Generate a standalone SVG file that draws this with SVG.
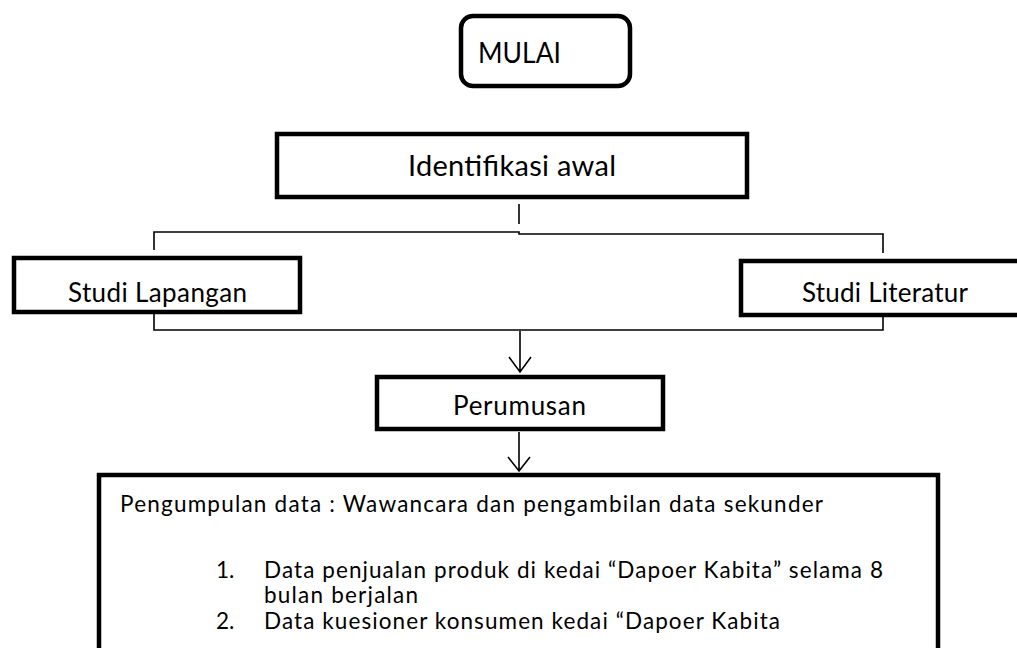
<svg xmlns="http://www.w3.org/2000/svg" width="1017" height="648" viewBox="0 0 1017 648">
<style>
.box{fill:#fff;stroke:#000;stroke-width:4.5}
.ln{fill:none;stroke:#000;stroke-width:1.6}
text{font-family:Lato,"Liberation Sans",sans-serif;fill:#000}
.big{font-size:29px}
.mid{font-size:26px}
.sm{font-size:22.5px}
</style>
<rect width="1017" height="648" fill="#fff"/>
<g id="connectors">
<path class="ln" d="M519,204 V224"/>
<path class="ln" d="M154,250 V232 H519 V234 H883 V253"/>
<path class="ln" d="M154,314 V330 H883 V317"/>
<path class="ln" d="M520,331 V372 M509,357 L520,372 L531,357"/>
<path class="ln" d="M519,432 V471 M508,457 L519,471 L530,457"/>
</g>
<g id="mulai">
<rect class="box" x="461" y="16" width="169" height="70" rx="12"/>
<text class="big" x="478" y="63" textLength="83" lengthAdjust="spacingAndGlyphs">MULAI</text>
</g>
<g id="identifikasi">
<rect class="box" x="277" y="134" width="470" height="63"/>
<text class="big" x="408" y="176" textLength="208">Identifikasi awal</text>
</g>
<g id="studi-lapangan">
<rect class="box" x="14" y="258" width="286" height="54"/>
<text class="mid" x="68" y="302" textLength="179">Studi Lapangan</text>
</g>
<g id="studi-literatur">
<rect class="box" x="741" y="261" width="290" height="54"/>
<text class="mid" x="802" y="302" textLength="166">Studi Literatur</text>
</g>
<g id="perumusan">
<rect class="box" x="377" y="377" width="286" height="52"/>
<text class="mid" x="453" y="415" textLength="133">Perumusan</text>
</g>
<g id="pengumpulan">
<rect class="box" x="99" y="475" width="839" height="200"/>
<text class="sm" x="120" y="512" textLength="703">Pengumpulan data : Wawancara dan pengambilan data sekunder</text>
<text class="sm" x="216" y="578">1.</text>
<text class="sm" x="264" y="578" textLength="619">Data penjualan produk di kedai “Dapoer Kabita” selama 8</text>
<text class="sm" x="264" y="603" textLength="154">bulan berjalan</text>
<text class="sm" x="216" y="629">2.</text>
<text class="sm" x="264" y="629" textLength="516">Data kuesioner konsumen kedai “Dapoer Kabita</text>
</g>
</svg>
